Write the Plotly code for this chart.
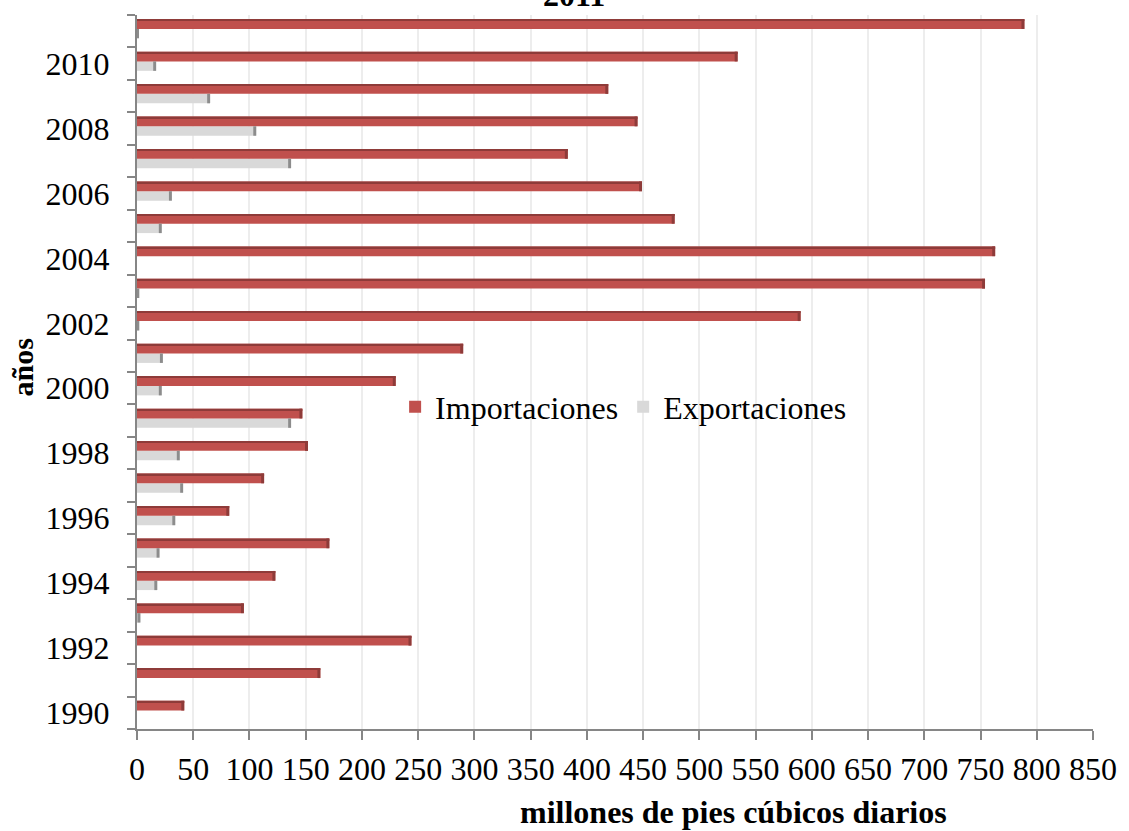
import plotly.graph_objects as go

# Gas natural: importaciones y exportaciones (millones de pies cúbicos diarios)
years = list(range(1990, 2012))
importaciones = [42, 163, 244, 95, 123, 171, 82, 113, 152, 147, 230, 290,
                 590, 754, 763, 478, 449, 383, 445, 419, 534, 789]
exportaciones = [0, 0, 0, 3, 18, 20, 34, 41, 38, 137, 22, 23,
                 2, 2, 0, 22, 31, 137, 106, 65, 17, 1]
x_ticks = list(range(0, 851, 50))
year_labels = years[::2]

FONT = "Liberation Serif, Times New Roman, serif"
RED, RED_DARK = "#C0504D", "#8E3B39"
GRAY, GRAY_DARK = "#D9D9D9", "#8C8C8C"
AXIS = "#868686"
CAP = 2.6  # depth of the shaded bar end, in axis units

fig = go.Figure()

# main bar faces
fig.add_trace(go.Bar(
    name="Exportaciones", y=years, x=exportaciones, orientation="h",
    offset=-0.22, width=0.29, marker=dict(color=GRAY, line=dict(width=0)),
    legendrank=2,
))
fig.add_trace(go.Bar(
    name="Importaciones", y=years, x=importaciones, orientation="h",
    offset=0.07, width=0.30, marker=dict(color=RED, line=dict(width=0)),
    legendrank=1,
))

# shaded ends and top edge giving the bars their bevelled look
def cap(values):
    lengths = [min(v, CAP) for v in values]
    bases = [v - c for v, c in zip(values, lengths)]
    return lengths, bases

exp_len, exp_base = cap(exportaciones)
imp_len, imp_base = cap(importaciones)
fig.add_trace(go.Bar(
    y=years, x=exp_len, base=exp_base, orientation="h", offset=-0.22, width=0.29,
    marker=dict(color=GRAY_DARK, line=dict(width=0)), showlegend=False, hoverinfo="skip",
))
fig.add_trace(go.Bar(
    y=years, x=imp_len, base=imp_base, orientation="h", offset=0.07, width=0.30,
    marker=dict(color=RED_DARK, line=dict(width=0)), showlegend=False, hoverinfo="skip",
))
fig.add_trace(go.Bar(
    y=years, x=importaciones, orientation="h", offset=0.32, width=0.05,
    marker=dict(color=RED_DARK, line=dict(width=0)), showlegend=False, hoverinfo="skip",
))

fig.update_layout(
    width=1129, height=831,
    barmode="overlay",
    plot_bgcolor="white", paper_bgcolor="white",
    margin=dict(l=137, r=32, t=15, b=102),
    font=dict(family=FONT, size=32, color="black"),
    showlegend=True,
    legend=dict(
        orientation="h", x=0.27, y=0.451, xanchor="left", yanchor="middle",
        bgcolor="rgba(0,0,0,0)", font=dict(family=FONT, size=32, color="black"),
        traceorder="normal", itemwidth=30,
    ),
    xaxis=dict(
        range=[0, 850], tickmode="array", tickvals=x_ticks,
        ticks="outside", ticklen=9, tickwidth=2, tickcolor=AXIS,
        showline=True, linecolor=AXIS, linewidth=2,
        showgrid=True, gridcolor="#EDEDED", gridwidth=2, zeroline=False,
        tickfont=dict(family=FONT, size=32, color="black"),
        ticklabelstandoff=2,
    ),
    yaxis=dict(
        range=[1989.5, 2011.5], tickmode="array", tickvals=year_labels,
        ticks="", showline=True, linecolor=AXIS, linewidth=2,
        showgrid=False, zeroline=False,
        tickfont=dict(family=FONT, size=32, color="black"),
        ticklabelstandoff=19,
        minor=dict(
            tickmode="array", tickvals=[y - 0.5 for y in years] + [years[-1] + 0.5],
            ticks="outside", ticklen=8, tickwidth=2, tickcolor=AXIS, showgrid=False,
        ),
    ),
    annotations=[
        dict(text="<b>millones de pies cúbicos diarios</b>", xref="paper", yref="paper",
             x=0.624, y=-0.116, xanchor="center", yanchor="middle", showarrow=False,
             font=dict(family=FONT, size=32, color="black")),
        dict(text="<b>años</b>", xref="paper", yref="paper",
             x=-0.1198, y=0.507, xanchor="center", yanchor="middle", textangle=-90,
             showarrow=False, font=dict(family=FONT, size=30, color="black")),
        dict(text="<b>2011</b>", xref="paper", yref="paper",
             x=0.457, y=1.028, xanchor="center", yanchor="middle", showarrow=False,
             font=dict(family=FONT, size=32, color="black")),
    ],
)

fig.write_html("out.html")
